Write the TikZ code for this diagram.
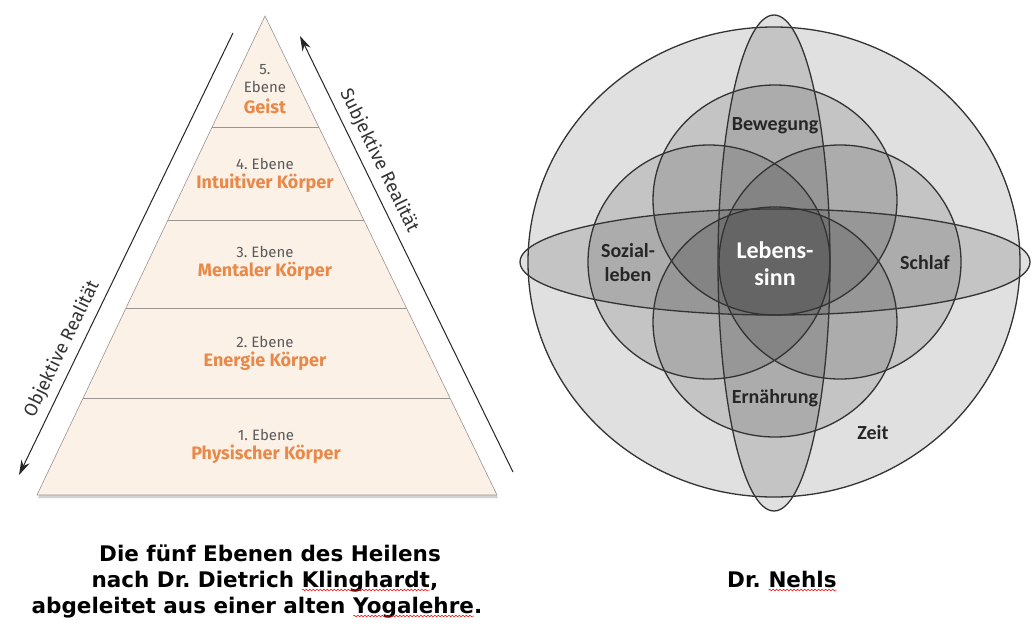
\documentclass[tikz,border=0pt]{standalone}
\usepackage{fontspec}
\usepackage{xcolor}
\usepackage{tikz}
\usetikzlibrary{shapes,arrows,arrows.meta,positioning,calc,shadows,decorations.pathmorphing}

\newfontfamily\pyrfont{Fira Sans}
\newfontfamily\vennfont{Carlito}
\newfontfamily\capfont{DejaVu Sans}
\frenchspacing

\definecolor{pyrbeige}{HTML}{FBF1E7}
\definecolor{pyrorange}{HTML}{E8894A}
\definecolor{pyrgray}{HTML}{5A5A5A}
\definecolor{pyrline}{HTML}{9A9590}

\tikzstyle{realarrow} = [line width=1pt, draw=black!85, -{Stealth[length=15pt,width=9pt]}]
\tikzstyle{lvl_num} = [font=\pyrfont\fontsize{15}{16}\selectfont, text=pyrgray, inner sep=0pt]
\tikzstyle{lvl_name} = [font=\pyrfont\bfseries\fontsize{18}{20}\selectfont, text=pyrorange, inner sep=0pt]

% red wavy underline as in the caption
\newcommand{\spellmark}[1]{\tikz[baseline=(sw.base)]{\node[inner sep=0pt, outer sep=0pt] (sw) {#1};
  \draw[red, line width=0.5pt, decorate, decoration={snake, segment length=3.5pt, amplitude=0.8pt}]
    ([yshift=-3pt]sw.base west) -- ([yshift=-3pt]sw.base east);}}

\begin{document}
\begin{tikzpicture}[x=1pt, y=-1pt,
    level_line/.style={draw=pyrline, line width=0.6pt},
    side_label/.style={font=\pyrfont\fontsize{18.5}{20}\selectfont, text=black!80, inner sep=0pt},
    venn_fill/.style={fill=black, fill opacity=0.12},
    venn_line/.style={draw=black!80, line width=1.3pt},
    venn_label/.style={font=\vennfont\bfseries\fontsize{20}{24}\selectfont, text=black!85, align=center, inner sep=0pt},
    caption/.style={font=\capfont\bfseries\fontsize{21.5}{24}\selectfont, anchor=base, inner sep=0pt}]

    % canvas
    \fill[white] (0,0) rectangle (1034,625);
    \useasboundingbox (0,0) rectangle (1034,625);

    % Pyramid
    \coordinate (apex) at (265,16);
    \coordinate (bl) at (37,495);
    \coordinate (br) at (497,495);
    \filldraw[fill=pyrbeige, draw=pyrline, line width=0.6pt,
      drop shadow={opacity=0.35, shadow xshift=1pt, shadow yshift=-3pt}] (apex) -- (br) -- (bl) -- cycle;
    \foreach \yy [evaluate=\yy as \tf using (\yy-16)/479] in {127,220,308,398}
      \draw[level_line] ($(apex)!\tf!(bl)$) -- ($(apex)!\tf!(br)$);

    % Levels
    \node[lvl_num] (l5num) at (265,70) {5.};
    \node[lvl_num] (l5eb) [below of=l5num, node distance=17pt] {Ebene};
    \node[lvl_name] (l5) [below of=l5eb, node distance=19pt] {Geist};
    \node[lvl_num] (l4num) at (265,164) {4. Ebene};
    \node[lvl_name] (l4) [below of=l4num, node distance=19pt] {Intuitiver Körper};
    \node[lvl_num] (l3num) at (265,252) {3. Ebene};
    \node[lvl_name] (l3) [below of=l3num, node distance=19pt] {Mentaler Körper};
    \node[lvl_num] (l2num) at (265,342) {2. Ebene};
    \node[lvl_name] (l2) [below of=l2num, node distance=19pt] {Energie Körper};
    \node[lvl_num] (l1num) at (266,435) {1. Ebene};
    \node[lvl_name] (l1) [below of=l1num, node distance=19pt] {Physischer Körper};

    % Arrows beside the pyramid
    \coordinate (obj_start) at (233,33);
    \coordinate (obj_end) at (19,475);
    \coordinate (sub_start) at (513,472);
    \coordinate (sub_end) at (300,36);
    \draw[realarrow] (obj_start) -- (obj_end);
    \draw[realarrow] (sub_start) -- (sub_end);
    \node[side_label, rotate=64] (objective) at (62,349) {Objektive Realität};
    \node[side_label, rotate=-64] (subjective) at (379,161) {Subjektive Realität};

    % Venn diagram: Zeit, vertical, horizontal, top, bottom, left, right
    \foreach \cx/\cy/\rx/\ry in {774/262/246/235, 774/263/56/248, 775/262/255/53,
        775/200/122/115, 775/322/122/115, 709/262/121/117, 840/262/121/117}
      \fill[venn_fill] (\cx,\cy) ellipse [x radius=\rx pt, y radius=\ry pt];
    \foreach \cx/\cy/\rx/\ry in {774/262/246/235, 774/263/56/248, 775/262/255/53,
        775/200/122/115, 775/322/122/115, 709/262/121/117, 840/262/121/117}
      \draw[venn_line] (\cx,\cy) ellipse [x radius=\rx pt, y radius=\ry pt];

    \node[venn_label] (bewegung) at (775,126) {Bewegung};
    \node[venn_label] (ernaehrung) at (775,398) {Ernährung};
    \node[venn_label] (sozial) at (628,263) {Sozial-\\leben};
    \node[venn_label] (schlaf) at (925,263) {Schlaf};
    \node[venn_label] (zeit) at (873,433) {Zeit};
    \node[venn_label, text=white, font=\vennfont\bfseries\fontsize{24}{27}\selectfont] (sinn) at (775,264) {Lebens-\\sinn};

    % Captions
    \node[caption] (cap1) at (270,561) {Die fünf Ebenen des Heilens};
    \node[caption] (cap2) at (265,587) {nach Dr. Dietrich \spellmark{Klinghardt},};
    \node[caption] (cap3) at (257,613) {abgeleitet aus einer alten \spellmark{Yogalehre}.};
    \node[caption] (nehls) at (782,587) {Dr. \spellmark{Nehls}};
\end{tikzpicture}
\end{document}
